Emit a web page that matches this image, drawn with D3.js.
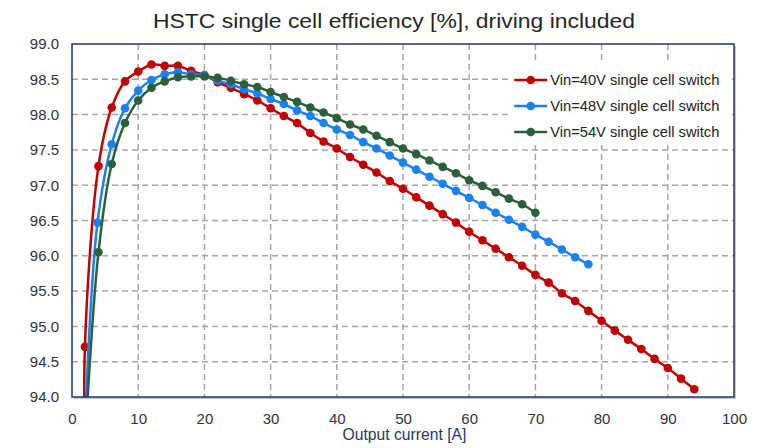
<!DOCTYPE html>
<html>
<head>
<meta charset="utf-8">
<script src="https://cdn.jsdelivr.net/npm/d3@7"></script>
<style>
  body { margin: 0; background: #fff; }
  text { font-family: "Liberation Sans", Arial, sans-serif; }
</style>
</head>
<body>
<svg id="drawing_region"></svg>
<script>
// current [A] and efficiency [%]
const x40 = [2.05, 1.95, 4, 6, 8, 10, 12, 14, 16, 18, 20, 22, 24, 26, 28, 30, 32, 34, 36, 38, 40, 42, 44, 46, 48, 50,
             52, 54, 56, 58, 60, 62, 64, 66, 68, 70, 72, 74, 76, 78, 80, 82, 84, 86, 88, 90, 92, 94];
const eff40 = [93.0, 94.71, 97.27, 98.10, 98.47, 98.61, 98.71, 98.69, 98.69, 98.62, 98.56, 98.46, 98.38, 98.29, 98.20,
               98.09, 97.98, 97.88, 97.74, 97.62, 97.52, 97.40, 97.29, 97.18, 97.06, 96.95, 96.83, 96.71, 96.59, 96.47,
               96.34, 96.22, 96.10, 95.98, 95.86, 95.73, 95.62, 95.47, 95.36, 95.22, 95.08, 94.94, 94.81, 94.68, 94.54,
               94.41, 94.26, 94.11];
const x48 = [2, 3.85, 6, 8, 10, 12, 14, 16, 18, 20, 22, 24, 26, 28, 30, 32, 34, 36, 38, 40, 42, 44, 46, 48, 50,
             52, 54, 56, 58, 60, 62, 64, 66, 68, 70, 72, 74, 76, 78];
const eff48 = [93.7, 96.47, 97.58, 98.09, 98.34, 98.49, 98.57, 98.60, 98.57, 98.56, 98.48, 98.43, 98.36, 98.30, 98.22,
               98.15, 98.06, 97.98, 97.88, 97.79, 97.71, 97.61, 97.52, 97.42, 97.32, 97.22, 97.12, 97.02, 96.92, 96.82,
               96.72, 96.61, 96.51, 96.41, 96.30, 96.20, 96.09, 95.98, 95.88];
const x54 = [2, 4, 6, 8, 10, 12, 14, 16, 18, 20, 22, 24, 26, 28, 30, 32, 34, 36, 38, 40, 42, 44, 46, 48, 50,
             52, 54, 56, 58, 60, 62, 64, 66, 68, 70];
const eff54 = [93.4, 96.05, 97.30, 97.88, 98.20, 98.38, 98.47, 98.53, 98.54, 98.54, 98.52, 98.48, 98.43, 98.39, 98.32,
               98.25, 98.18, 98.10, 98.03, 97.95, 97.86, 97.79, 97.70, 97.61, 97.52, 97.44, 97.35, 97.26, 97.17, 97.07,
               96.99, 96.90, 96.81, 96.73, 96.61];

const seriesNames = ["Vin=40V single cell switch", "Vin=48V single cell switch", "Vin=54V single cell switch"];
const seriesColors = ["#c00000", "#1a82f0", "#2c5f3b"];
const xTicks = [0, 10, 20, 30, 40, 50, 60, 70, 80, 90, 100];
const yTicks = [94.0, 94.5, 95.0, 95.5, 96.0, 96.5, 97.0, 97.5, 98.0, 98.5, 99.0];

const width = 769, height = 448;
const margin = { top: 44, right: 35, bottom: 51, left: 72 };
const inner_width = width - margin.left - margin.right;
const inner_height = height - margin.top - margin.bottom;

const series = [
    { name: seriesNames[0], color: seriesColors[0], pts: x40.map((x, i) => ({ x: x, y: eff40[i] })) },
    { name: seriesNames[1], color: seriesColors[1], pts: x48.map((x, i) => ({ x: x, y: eff48[i] })) },
    { name: seriesNames[2], color: seriesColors[2], pts: x54.map((x, i) => ({ x: x, y: eff54[i] })) }
];

const svg = d3.select('#drawing_region')
    .attr('width', width)
    .attr('height', height);

svg.append('text')
    .attr('x', 394)
    .attr('y', 27.5)
    .attr('text-anchor', 'middle')
    .attr('textLength', 482)
    .attr('lengthAdjust', 'spacingAndGlyphs')
    .style('font-size', '20.5px')
    .attr('fill', '#262626')
    .text('HSTC single cell efficiency [%], driving included');

const chart = svg.append('g')
    .attr('transform', `translate(${margin.left}, ${margin.top})`);

const xscale = d3.scaleLinear().domain([0, 100]).range([0, inner_width]);
const yscale = d3.scaleLinear().domain([94, 99]).range([inner_height, 0]);

// shadow of the plot frame
chart.append('rect')
    .attr('x', 2).attr('y', 2)
    .attr('width', inner_width).attr('height', inner_height)
    .attr('fill', '#c8c8c8');
chart.append('rect')
    .attr('width', inner_width).attr('height', inner_height)
    .attr('fill', 'white');

// grid
chart.append('g')
    .selectAll('line')
    .data(xTicks.slice(1, -1))
    .enter()
    .append('line')
    .attr('x1', d => xscale(d)).attr('x2', d => xscale(d))
    .attr('y1', 0).attr('y2', inner_height)
    .attr('stroke', '#a6a6a6')
    .attr('stroke-width', 1.5)
    .attr('stroke-dasharray', '6,4');
chart.append('g')
    .selectAll('line')
    .data(yTicks.slice(1, -1))
    .enter()
    .append('line')
    .attr('x1', 0).attr('x2', inner_width)
    .attr('y1', d => yscale(d)).attr('y2', d => yscale(d))
    .attr('stroke', '#a6a6a6')
    .attr('stroke-width', 1.5)
    .attr('stroke-dasharray', '6,4');

// axes labels
const xaxis = d3.axisBottom(xscale).tickValues(xTicks).tickSize(0).tickPadding(16);
chart.append('g')
    .attr('transform', `translate(0, ${inner_height})`)
    .call(xaxis)
    .call(g => g.select('.domain').remove())
    .selectAll('text')
    .style('font-size', '15px')
    .attr('fill', '#333');

const yaxis = d3.axisLeft(yscale).tickValues(yTicks).tickFormat(d3.format('.1f')).tickSize(0).tickPadding(13);
chart.append('g')
    .call(yaxis)
    .call(g => g.select('.domain').remove())
    .selectAll('text')
    .style('font-size', '15px')
    .attr('fill', '#333');

svg.append('text')
    .attr('x', 404.5)
    .attr('y', 439.5)
    .attr('text-anchor', 'middle')
    .style('font-size', '15.7px')
    .attr('fill', '#1f3864')
    .text('Output current [A]');

// legend background hides the grid
const legend = chart.append('g')
    .attr('transform', `translate(${xscale(66.5)}, ${yscale(98.73)})`);
legend.append('rect')
    .attr('width', 218).attr('height', 82)
    .attr('fill', 'white');

// curves
chart.append('clipPath')
    .attr('id', 'plot_clip')
    .append('rect')
    .attr('width', inner_width).attr('height', inner_height);

const line = d3.line()
    .x(d => xscale(d.x))
    .y(d => yscale(d.y))
    .curve(d3.curveCatmullRom.alpha(0.5));

const plot = chart.append('g').attr('clip-path', 'url(#plot_clip)');

series.forEach(s => {
    plot.append('path')
        .datum(s.pts)
        .attr('d', line)
        .attr('fill', 'none')
        .attr('stroke', s.color)
        .attr('stroke-width', 2.5);
    plot.append('g')
        .selectAll('circle')
        .data(s.pts)
        .enter()
        .append('circle')
        .attr('cx', d => xscale(d.x))
        .attr('cy', d => yscale(d.y))
        .attr('r', 4.3)
        .attr('fill', s.color);
});

// frame
chart.append('rect')
    .attr('width', inner_width).attr('height', inner_height)
    .attr('fill', 'none')
    .attr('stroke', '#1f3864')
    .attr('stroke-width', 1.5);

// legend entries
const entry = legend.selectAll('g.entry')
    .data(series)
    .enter()
    .append('g')
    .attr('class', 'entry')
    .attr('transform', (d, i) => `translate(0, ${17 + i * 26})`);
entry.append('line')
    .attr('x1', 2).attr('x2', 35)
    .attr('stroke', d => d.color)
    .attr('stroke-width', 2.5);
entry.append('circle')
    .attr('cx', 18.5)
    .attr('r', 4.3)
    .attr('fill', d => d.color);
entry.append('text')
    .attr('x', 38)
    .attr('dy', '0.35em')
    .style('font-size', '14.7px')
    .attr('fill', '#222')
    .text(d => d.name);
</script>
</body>
</html>
